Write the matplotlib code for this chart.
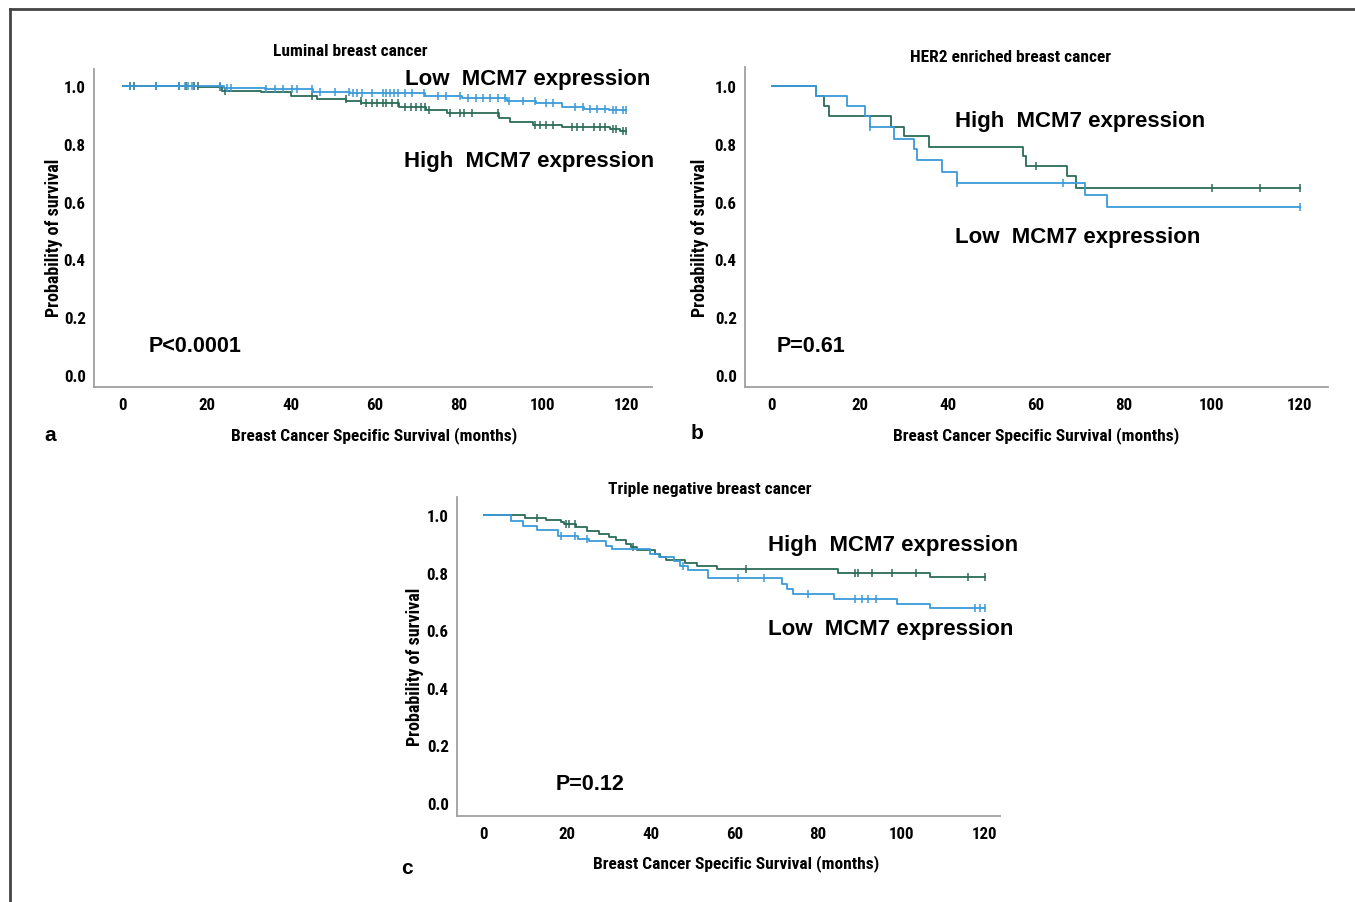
import numpy as np
import matplotlib.pyplot as plt
from matplotlib.lines import Line2D
from matplotlib import font_manager as fm

W, H = 1355, 903
HIGH = '#2b6b58'
LOW = '#3a9ad9'
BOLD = ['Liberation Sans', 'DejaVu Sans']

# ---- a: luminal
lum_high_t = [0, 17.9, 23.6, 32.9, 40.0, 46.2, 53.3, 56.9, 65.8, 72.4, 77.3, 89.7, 92.4, 97.7, 104.8, 116.3, 118.5]
lum_high_s = [1.0, 0.995, 0.983, 0.978, 0.965, 0.954, 0.949, 0.940, 0.928, 0.917, 0.906, 0.890, 0.877, 0.866, 0.859, 0.851, 0.846]
lum_high_c = [1.8, 2.7, 8.0, 13.3, 15.1, 16.9, 17.8, 23.1, 24.4, 45.2, 53.1, 56.7, 58.0, 59.3, 60.6,
              62.0, 62.8, 64.2, 65.5, 67.3, 68.6, 69.9, 71.2, 72.1, 73.0, 77.9, 80.5, 81.4, 83.2,
              89.4, 98.2, 99.5, 100.9, 102.6, 107.0, 108.4, 109.7, 112.4, 113.7, 115.0, 116.8,
              117.6, 119.4, 120.0]
lum_low_t = [0, 24.1, 33.8, 45.4, 54.2, 72.0, 80.8, 91.5, 98.6, 104.8, 110.0, 116.0]
lum_low_s = [1.0, 0.994, 0.989, 0.981, 0.976, 0.967, 0.957, 0.949, 0.941, 0.928, 0.922, 0.918]
lum_low_c = [1.8, 8.0, 13.3, 14.7, 15.5, 16.4, 23.1, 24.8, 25.7, 34.1, 36.3, 38.1, 40.3, 41.6,
             45.2, 46.9, 50.5, 54.0, 54.9, 55.8, 57.1, 59.3, 62.0, 62.8, 63.7, 64.6, 65.5, 67.3,
             69.0, 71.7, 75.2, 77.0, 80.5, 82.3, 84.1, 85.8, 87.6, 89.4, 91.1, 92.0, 95.5, 98.2,
             100.9, 102.6, 107.9, 109.7, 111.5, 113.2, 115.0, 116.8, 117.6, 119.4, 120.0]

# ---- b: HER2 enriched
her_high_t = [0, 10.0, 11.9, 13.0, 27.0, 30.0, 35.8, 57.0, 57.8, 67.0, 69.1]
her_high_s = [1.0, 0.964, 0.930, 0.896, 0.859, 0.826, 0.790, 0.757, 0.722, 0.687, 0.648]
her_high_c = [60.0, 100.0, 110.9, 120.0]
her_low_t = [0, 10.0, 17.0, 21.1, 22.2, 27.8, 32.2, 33.0, 38.7, 42.0, 71.1, 76.1]
her_low_s = [1.0, 0.964, 0.930, 0.896, 0.857, 0.817, 0.781, 0.744, 0.704, 0.665, 0.623, 0.582]
her_low_c = [22.2, 42.0, 66.1, 120.0]

# ---- c: triple negative
tn_high_t = [0, 9.9, 14.8, 18.5, 19.3, 22.2, 24.7, 27.5, 30.0, 31.6, 34.1, 35.3, 36.6, 41.1,
             42.3, 43.6, 48.1, 51.0, 55.9, 84.7, 106.8]
tn_high_s = [1.0, 0.991, 0.983, 0.976, 0.969, 0.958, 0.944, 0.933, 0.924, 0.913, 0.900, 0.889,
             0.880, 0.866, 0.853, 0.844, 0.835, 0.824, 0.811, 0.800, 0.786]
tn_high_c = [12.7, 19.7, 20.5, 21.8, 35.8, 62.9, 88.8, 89.6, 92.9, 97.8, 103.6, 115.9, 120.0]
tn_low_t = [0, 6.6, 9.5, 12.7, 17.7, 22.6, 25.1, 29.2, 30.8, 39.9, 41.9, 45.6, 46.9, 48.9,
            53.8, 71.5, 72.7, 74.0, 83.8, 99.0, 106.8]
tn_low_s = [1.0, 0.978, 0.961, 0.948, 0.928, 0.916, 0.909, 0.894, 0.883, 0.866, 0.853, 0.839,
            0.822, 0.808, 0.781, 0.761, 0.744, 0.727, 0.710, 0.690, 0.677]
tn_low_c = [18.5, 21.8, 24.7, 47.7, 60.8, 67.0, 77.7, 88.8, 90.5, 92.1, 93.8, 117.5, 118.8, 120.0]

yticks = [0.0, 0.2, 0.4, 0.6, 0.8, 1.0]
xticks = [0, 20, 40, 60, 80, 100, 120]


def find_narrow_bold():
    # look for an installed condensed bold face (Arial Narrow look-alike)
    prefs = ['Liberation Sans Narrow', 'Arial Narrow', 'Roboto Condensed', 'DejaVu Sans']
    for name in prefs:
        for f in fm.fontManager.ttflist:
            w = f.weight
            if isinstance(w, str):
                w = fm.weight_dict.get(w, 400)
            narrow = ('ondensed' in str(f.stretch) or 'Narrow' in f.name or 'Condensed' in f.name
                      or 'Condensed' in f.fname or 'Narrow' in f.fname)
            if f.name == name and narrow and w >= 600 and '[' not in f.fname:
                return f.fname
    return None


narrow_path = find_narrow_bold()
K = 1 / 0.82 if narrow_path else 1.0


def nfont(size):
    if narrow_path:
        return fm.FontProperties(fname=narrow_path, size=size * K)
    return fm.FontProperties(family='Liberation Sans', weight='bold', size=size)


def px(x, y):
    return x / W, 1 - y / H


def make_axes(fig, l, r, t, b):
    return fig.add_axes([l / W, 1 - b / H, (r - l) / W, (b - t) / H])


def km(ax, t, s, cens, color):
    t = np.array(t)
    s = np.array(s)
    ax.step(np.append(t, 120), np.append(s, s[-1]), where='post', color=color, lw=1.3)
    cy = s[np.searchsorted(t, cens, side='right') - 1]
    ax.plot(cens, cy, ls='none', marker='|', ms=6, mew=1.1, color=color)


def style(ax, xlim, ylim):
    ax.set_xlim(*xlim)
    ax.set_ylim(*ylim)
    ax.set_xticks(xticks)
    ax.set_yticks(yticks)
    ax.set_xticklabels([str(v) for v in xticks])
    ax.set_yticklabels(['%.1f' % v for v in yticks])
    for lbl in ax.get_xticklabels() + ax.get_yticklabels():
        lbl.set_fontproperties(nfont(10))
    ax.tick_params(axis='y', length=0, pad=6)
    ax.tick_params(axis='x', length=0, pad=7)
    for side in ['top', 'right']:
        ax.spines[side].set_visible(False)
    for side in ['left', 'bottom']:
        ax.spines[side].set_color('#a0a0a0')
        ax.spines[side].set_linewidth(1.3)


fig = plt.figure(figsize=(W / 100, H / 100), dpi=100)

# frame
fig.add_artist(Line2D([10 / W, 1], [1 - 10 / H, 1 - 10 / H], color='#444444', lw=2))
fig.add_artist(Line2D([10 / W, 10 / W], [0, 1 - 10 / H], color='#444444', lw=2))

ax_a = make_axes(fig, 94, 652, 70, 388)
km(ax_a, lum_high_t, lum_high_s, lum_high_c, HIGH)
km(ax_a, lum_low_t, lum_low_s, lum_low_c, LOW)
style(ax_a, (-6.9, 126.2), (-0.042, 1.059))

ax_b = make_axes(fig, 745, 1328, 68, 388)
km(ax_b, her_high_t, her_high_s, her_high_c, HIGH)
km(ax_b, her_low_t, her_low_s, her_low_c, LOW)
style(ax_b, (-6.1, 126.4), (-0.042, 1.066))

ax_c = make_axes(fig, 457, 1000, 498, 817)
km(ax_c, tn_high_t, tn_high_s, tn_high_c, HIGH)
km(ax_c, tn_low_t, tn_low_s, tn_low_c, LOW)
style(ax_c, (-6.4, 123.6), (-0.045, 1.0625))

big = dict(fontfamily=BOLD, fontweight='bold', fontsize=16, ha='center', va='center')
pv = dict(fontfamily=BOLD, fontweight='bold', fontsize=15.5, ha='center', va='center')
let = dict(fontfamily=BOLD, fontweight='bold', fontsize=15, ha='center', va='center')
mid = dict(ha='center', va='center')


def title(x, y, s):
    fig.text(*px(x, y), s, fontproperties=nfont(10.3), **mid)


def xlab(x, y):
    fig.text(*px(x, y), 'Breast Cancer Specific Survival (months)', fontproperties=nfont(10.3), **mid)


def ylab(x, y):
    fig.text(*px(x, y), 'Probability of survival', fontproperties=nfont(10.6), rotation=90, **mid)


# panel a
title(350, 52, 'Luminal breast cancer')
fig.text(*px(528, 79), 'Low  MCM7 expression', **big)
fig.text(*px(529, 161), 'High  MCM7 expression', **big)
fig.text(*px(195, 347), 'P<0.0001', **pv)
xlab(374, 436)
ylab(54, 238)
fig.text(*px(50, 436), 'a', **let)

# panel b
title(1011, 58, 'HER2 enriched breast cancer')
fig.text(*px(1080, 122), 'High  MCM7 expression', **big)
fig.text(*px(1078, 238), 'Low  MCM7 expression', **big)
fig.text(*px(811, 347), 'P=0.61', **pv)
xlab(1036, 436)
ylab(700, 238)
fig.text(*px(697, 434), 'b', **let)

# panel c
title(710, 490, 'Triple negative breast cancer')
fig.text(*px(893, 546), 'High  MCM7 expression', **big)
fig.text(*px(891, 629), 'Low  MCM7 expression', **big)
fig.text(*px(590, 785), 'P=0.12', **pv)
xlab(736, 864)
ylab(415, 667)
fig.text(*px(407, 869), 'c', **let)

fig.savefig('out.png', dpi=100)
